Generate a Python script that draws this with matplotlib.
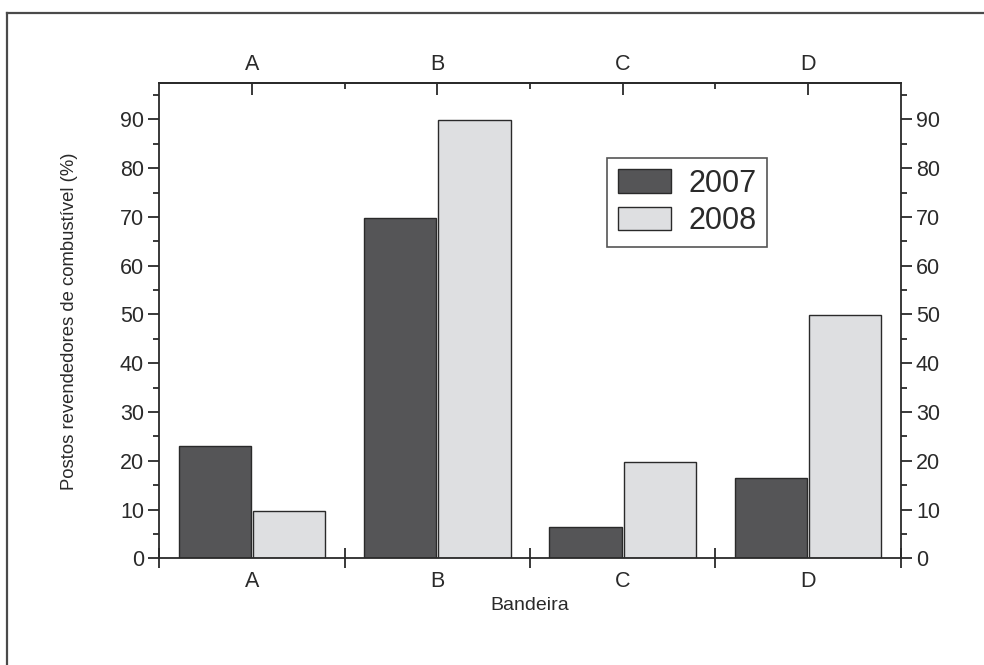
import numpy as np
import matplotlib
matplotlib.use("Agg")
import matplotlib.pyplot as plt
from matplotlib.lines import Line2D

# values
categories = ["A", "B", "C", "D"]
years = ["2007", "2008"]
share_2007 = [23.0, 69.8, 6.4, 16.4]
share_2008 = [9.7, 89.8, 19.7, 49.8]

DARK = "#555557"
LIGHT = "#dedfe1"
INK = "#2a2a2a"

plt.rcParams["font.family"] = ["Liberation Sans", "DejaVu Sans"]

fig = plt.figure(figsize=(9.84, 6.65), dpi=100)
ax = fig.add_axes([0.1619, 0.1604, 0.7534, 0.7143])

x = np.arange(len(categories))
w = 0.39
ax.bar(x - 0.2, share_2007, w, color=DARK, edgecolor=INK, lw=1.0, label=years[0], zorder=2)
ax.bar(x + 0.2, share_2008, w, color=LIGHT, edgecolor=INK, lw=1.0, label=years[1], zorder=2)

ax.set_xlim(-0.5, len(categories) - 0.5)
ax.set_ylim(0, 97.4)

for s in ax.spines.values():
    s.set_linewidth(1.3)
    s.set_color(INK)

# y axis: both sides, ticks outward
ax.set_yticks(np.arange(0, 91, 10))
ax.set_yticks(np.arange(5, 96, 10), minor=True)
ax.tick_params(axis="y", which="both", direction="out", left=True, right=True,
               labelleft=True, labelright=True, colors=INK, width=1.3)
ax.tick_params(axis="y", which="major", length=8, labelsize=15.5, pad=3)
ax.tick_params(axis="y", which="minor", length=4.5)

# bottom: labels under categories, crossing ticks at the group boundaries
ax.set_xticks(x)
ax.set_xticklabels(categories)
ax.set_xticks(np.arange(-0.5, len(categories)), minor=True)
ax.tick_params(axis="x", which="major", length=0, labelsize=15.5, pad=9, colors=INK)
ax.tick_params(axis="x", which="minor", direction="inout", length=14, width=1.3, color=INK)

# top axis: ticks pointing in
top = ax.secondary_xaxis("top")
top.set_xticks(x)
top.set_xticklabels(categories)
top.set_xticks(np.arange(0.5, len(categories) - 1), minor=True)
top.tick_params(which="major", direction="in", length=8.5, width=1.3, labelsize=15.5,
                pad=6, colors=INK)
top.tick_params(which="minor", direction="in", length=4, width=1.3, color=INK)
top.spines["top"].set_linewidth(1.3)
top.spines["top"].set_color(INK)

fig.text(70 / 984, 1 - 321 / 665, "Postos revendedores de combustível (%)",
         rotation=90, ha="center", va="center", fontsize=13.3, color=INK)
fig.text(530 / 984, 1 - 606 / 665, "Bandeira", ha="center", va="center",
         fontsize=14, color=INK)

leg = ax.legend(loc="upper left", bbox_to_anchor=(0.604, 0.843), fontsize=22,
                frameon=True, fancybox=False, edgecolor="#555555", framealpha=1,
                handlelength=1.75, handleheight=0.8, handletextpad=0.55,
                labelspacing=0.25, borderpad=0.35, borderaxespad=0)
leg.get_frame().set_linewidth(1.2)
for t in leg.get_texts():
    t.set_color(INK)

# outer frame of the figure panel (left and top edges only are visible)
fig.add_artist(Line2D([7 / 984, 7 / 984], [0, 1 - 13 / 665], transform=fig.transFigure,
                      color="#4a4a4a", lw=1.6))
fig.add_artist(Line2D([7 / 984, 1], [1 - 13 / 665, 1 - 13 / 665], transform=fig.transFigure,
                      color="#4a4a4a", lw=1.6))

fig.savefig("out.png", dpi=100)
